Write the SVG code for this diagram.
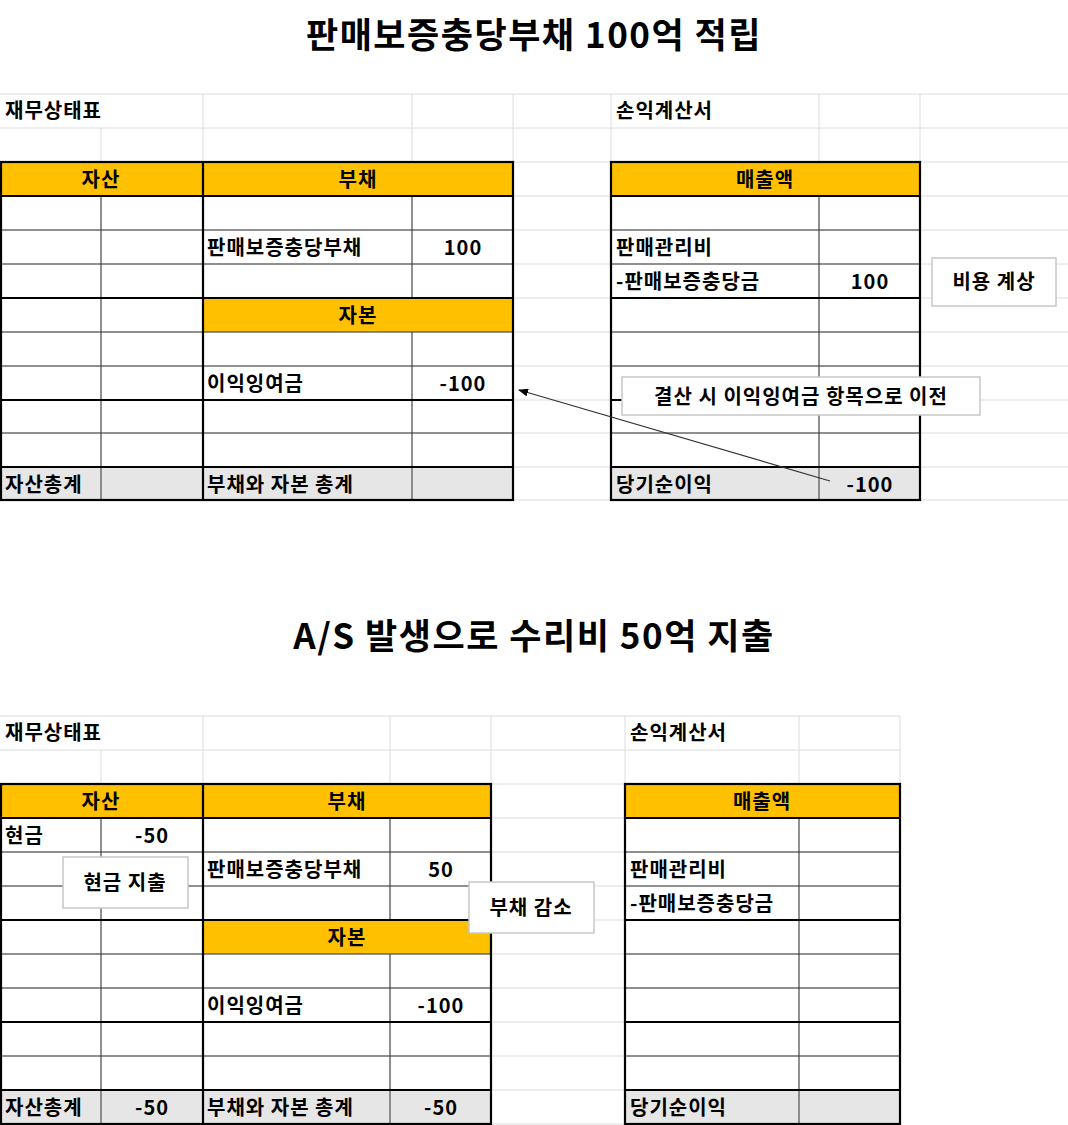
<svg xmlns="http://www.w3.org/2000/svg" width="1068" height="1125" viewBox="0 0 1068 1125">
<style>
.g{stroke:#dcdcdc;stroke-width:1;fill:none}
.t{stroke:#333;stroke-width:1;fill:none}
.k{stroke:#000;stroke-width:2.2;fill:none}
.y{fill:#ffc000}
.s{fill:#e7e6e6}
text{font-family:"Noto Sans CJK KR","Noto Sans",sans-serif;font-size:20px;font-weight:700;fill:#000;letter-spacing:1px}
.ti{font-size:35px;letter-spacing:1.5px}
.c{text-anchor:middle}
.cb rect{fill:#fff;stroke:#c8c8c8;stroke-width:1.5}
</style>
<defs><marker id="ah" markerWidth="10" markerHeight="8" refX="9" refY="4" orient="auto" markerUnits="userSpaceOnUse"><path d="M0,0 L10,4 L0,8 z" fill="#000"/></marker></defs>
<rect width="1068" height="1125" fill="#fff"/>
<g id="grid-top" class="g">
<path d="M0,94H1068M0,128H1068M0,162H1068M0,196H1068M0,230H1068M0,264H1068M0,298H1068M0,332H1068M0,366H1068M0,400H1068M0,433H1068M0,467H1068M0,500H1068"/>
<path d="M101,128V500M203,94V500M412,94V500M513,94V500M611,94V500M819,94V500M920,94V500"/>
</g>
<g id="grid-bottom" class="g">
<path d="M0,716H900M0,750H900M0,784H900M0,818H900M0,852H900M0,886H900M0,920H900M0,954H900M0,988H900M0,1022H900M0,1056H900M0,1090H900M0,1124H900"/>
<path d="M101,750V1124M203,716V1124M390,716V1124M491,716V1124M625,716V1124M799,716V1124M900,716V1124"/>
</g>
<text x="534" y="48" class="ti c">판매보증충당부채 100억 적립</text>
<text x="534" y="649" class="ti c">A/S 발생으로 수리비 50억 지출</text>
<g id="bs-top">
<rect class="y" x="0" y="162" width="513" height="34"/>
<rect class="y" x="203" y="298" width="310" height="34"/>
<rect class="s" x="0" y="467" width="513" height="33"/>
<path class="t" d="M0,230H513M0,264H513M0,332H513M0,366H513M0,433H513M101,196V500M412,196V298M412,332V500"/>
<path class="k" d="M0,196H513M0,298H513M0,400H513M0,467H513M203,162V500"/>
<rect class="k" x="1" y="162" width="512" height="338"/>
<text x="5" y="118">재무상태표</text>
<text x="101" y="187" class="c">자산</text>
<text x="358" y="187" class="c">부채</text>
<text x="207" y="255">판매보증충당부채</text>
<text x="463" y="255" class="c">100</text>
<text x="358" y="323" class="c">자본</text>
<text x="207" y="391">이익잉여금</text>
<text x="463" y="391" class="c">-100</text>
<text x="5" y="492">자산총계</text>
<text x="207" y="492">부채와 자본 총계</text>
</g>
<g id="is-top">
<rect class="y" x="611" y="162" width="309" height="34"/>
<rect class="s" x="611" y="467" width="309" height="33"/>
<path class="t" d="M611,230H920M611,264H920M611,332H920M611,366H920M611,433H920M819,196V500"/>
<path class="k" d="M611,196H920M611,298H920M611,400H920M611,467H920"/>
<rect class="k" x="611" y="162" width="309" height="338"/>
<text x="616" y="118">손익계산서</text>
<text x="765" y="187" class="c">매출액</text>
<text x="616" y="255">판매관리비</text>
<text x="616" y="289">-판매보증충당금</text>
<text x="870" y="289" class="c">100</text>
<text x="616" y="492">당기순이익</text>
<text x="870" y="492" class="c">-100</text>
</g>
<g id="bs-bottom">
<rect class="y" x="0" y="784" width="491" height="34"/>
<rect class="y" x="203" y="920" width="288" height="34"/>
<rect class="s" x="0" y="1090" width="491" height="34"/>
<path class="t" d="M0,852H491M0,886H491M0,954H491M0,988H491M0,1056H491M101,818V1124M390,818V920M390,954V1124"/>
<path class="k" d="M0,818H491M0,920H491M0,1022H491M0,1090H491M203,784V1124"/>
<rect class="k" x="1" y="784" width="490" height="340"/>
<text x="5" y="740">재무상태표</text>
<text x="101" y="809" class="c">자산</text>
<text x="347" y="809" class="c">부채</text>
<text x="5" y="843">현금</text>
<text x="152" y="843" class="c">-50</text>
<text x="207" y="877">판매보증충당부채</text>
<text x="441" y="877" class="c">50</text>
<text x="347" y="945" class="c">자본</text>
<text x="207" y="1013">이익잉여금</text>
<text x="441" y="1013" class="c">-100</text>
<text x="5" y="1115">자산총계</text>
<text x="152" y="1115" class="c">-50</text>
<text x="207" y="1115">부채와 자본 총계</text>
<text x="441" y="1115" class="c">-50</text>
</g>
<g id="is-bottom">
<rect class="y" x="625" y="784" width="275" height="34"/>
<rect class="s" x="625" y="1090" width="275" height="34"/>
<path class="t" d="M625,852H900M625,886H900M625,954H900M625,988H900M625,1056H900M799,818V1124"/>
<path class="k" d="M625,818H900M625,920H900M625,1022H900M625,1090H900"/>
<rect class="k" x="625" y="784" width="275" height="340"/>
<text x="630" y="740">손익계산서</text>
<text x="762" y="809" class="c">매출액</text>
<text x="630" y="877">판매관리비</text>
<text x="630" y="911">-판매보증충당금</text>
<text x="630" y="1115">당기순이익</text>
</g>
<g id="connectors">
<line x1="830" y1="481" x2="519" y2="390" stroke="#333" stroke-width="1.2" marker-end="url(#ah)"/>
</g>
<g id="callout-cost" class="cb"><rect x="932" y="258" width="124" height="48"/><text x="994" y="289" class="c">비용 계상</text></g>
<g id="callout-transfer" class="cb"><rect x="622" y="377" width="358" height="38"/><text x="801" y="404" class="c">결산 시 이익잉여금 항목으로 이전</text></g>
<g id="callout-cash" class="cb"><rect x="63" y="857" width="125" height="51"/><text x="125" y="890" class="c">현금 지출</text></g>
<g id="callout-liab" class="cb"><rect x="469" y="882" width="125" height="51"/><text x="531" y="915" class="c">부채 감소</text></g>
</svg>
